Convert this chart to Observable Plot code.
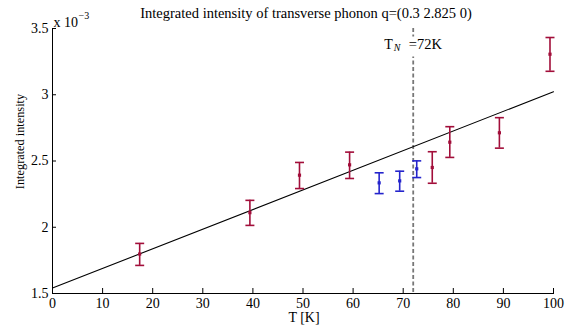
<!DOCTYPE html>
<html>
<head>
<meta charset="utf-8">
<script src="https://cdn.jsdelivr.net/npm/d3@7"></script>
<script src="https://cdn.jsdelivr.net/npm/@observablehq/plot@0.6"></script>
<style>
  html, body { margin: 0; padding: 0; background: #fff; }
</style>
</head>
<body>
<div id="chart"></div>
<script>
// Data (intensity in units of 1e-3)
const redT   = [17.4, 39.4, 49.3, 59.3, 75.8, 79.3, 89.2, 99.3];
const redV   = [1.798, 2.110, 2.393, 2.471, 2.451, 2.642, 2.713, 3.306];
const redLo  = [1.712, 2.014, 2.292, 2.368, 2.332, 2.527, 2.597, 3.177];
const redHi  = [1.878, 2.203, 2.489, 2.567, 2.570, 2.759, 2.827, 3.432];

const blueT  = [65.2, 69.3, 72.7];
const blueV  = [2.335, 2.350, 2.441];
const blueLo = [2.254, 2.272, 2.375];
const blueHi = [2.411, 2.423, 2.501];

const fitT = [0, 100];
const fitV = [1.541, 3.023];

const TN = 72;

const xTicks = [0, 10, 20, 30, 40, 50, 60, 70, 80, 90, 100];
const yTicks = [1.5, 2, 2.5, 3, 3.5];

const titleText = "Integrated intensity of transverse phonon q=(0.3 2.825 0)";
const xLabel = "T [K]";
const yLabel = "Integrated intensity";

const red = redT.map((t, i) => ({t, v: redV[i], lo: redLo[i], hi: redHi[i]}));
const blue = blueT.map((t, i) => ({t, v: blueV[i], lo: blueLo[i], hi: blueHi[i]}));
const fit = fitT.map((t, i) => ({t, v: fitV[i]}));

const RED = "#a20e3a";
const BLUE = "#2424cc";

const cap = {
  draw(ctx, size) {
    const r = 4.5;
    ctx.moveTo(-r, 0);
    ctx.lineTo(r, 0);
  }
};

const labelBox = {
  draw(ctx, size) {
    ctx.rect(-6, -10, 12, 20);
  }
};

function errMarks(data, color) {
  return [
    Plot.ruleX(data, {x: "t", y1: "lo", y2: "hi", stroke: color, strokeWidth: 1.6}),
    Plot.dot(data, {x: "t", y: "lo", symbol: cap, r: 4.5, stroke: color, strokeWidth: 1.6, fill: "none"}),
    Plot.dot(data, {x: "t", y: "hi", symbol: cap, r: 4.5, stroke: color, strokeWidth: 1.6, fill: "none"}),
    Plot.dot(data, {x: "t", y: "v", symbol: "square", r: 1.8, fill: color, stroke: "none"})
  ];
}

const chart = Plot.plot({
  width: 574,
  height: 325,
  marginLeft: 52,
  marginRight: 21,
  marginTop: 28,
  marginBottom: 32,
  style: {fontFamily: "'Liberation Serif', 'DejaVu Serif', serif", fontSize: "14px", color: "black", background: "white"},
  x: {domain: [0, 100]},
  y: {domain: [1.5, 3.5]},
  marks: [
    Plot.ruleX([TN], {x: d => d, stroke: "#777", strokeWidth: 1.8, strokeDasharray: "4,2.5"}),
    Plot.dot([TN], {x: d => d, frameAnchor: "top", dy: 18, symbol: labelBox, r: 5, fill: "white", stroke: "none"}),
    Plot.line(fit, {x: "t", y: "v", stroke: "black", strokeWidth: 1.1}),
    ...errMarks(red, RED),
    ...errMarks(blue, BLUE),
    Plot.frame({anchor: "left", stroke: "black", strokeWidth: 1}),
    Plot.frame({anchor: "bottom", stroke: "black", strokeWidth: 1}),
    Plot.axisX({ticks: xTicks, tickSize: -5, tickPadding: 10, label: null, tickFormat: d => String(d), fontSize: 14}),
    Plot.axisY({ticks: yTicks, tickSize: -4, tickPadding: 8, label: null, tickFormat: d => String(d), fontSize: 14}),
    Plot.text([titleText], {text: d => d, frameAnchor: "top", lineAnchor: "middle", dx: 3, dy: -15.5, fontSize: 14.5}),
    Plot.text([yLabel], {text: d => d, frameAnchor: "left", textAnchor: "middle", lineAnchor: "middle", rotate: -90, dx: -32, dy: -19.5, fontSize: 12.3}),
    Plot.text([xLabel], {text: d => d, frameAnchor: "bottom", textAnchor: "middle", lineAnchor: "middle", dx: 1, dy: 24.5, fontSize: 14}),
    Plot.text(["x 10"], {text: d => d, frameAnchor: "top-left", textAnchor: "start", lineAnchor: "middle", dx: 1, dy: -6, fontSize: 14}),
    Plot.text(["\u22123"], {text: d => d, frameAnchor: "top-left", textAnchor: "start", lineAnchor: "middle", dx: 26, dy: -13, fontSize: 10}),
    Plot.text([TN], {x: d => d, text: () => "T", frameAnchor: "top", textAnchor: "start", lineAnchor: "middle", dx: -29, dy: 16, fontSize: 14}),
    Plot.text([TN], {x: d => d, text: () => "N", frameAnchor: "top", textAnchor: "start", lineAnchor: "middle", dx: -19.5, dy: 19.5, fontSize: 10, fontStyle: "italic"}),
    Plot.text([TN], {x: d => d, text: () => "=72K", frameAnchor: "top", textAnchor: "start", lineAnchor: "middle", dx: -4.5, dy: 16, fontSize: 14.5})
  ]
});

document.getElementById("chart").appendChild(chart);
</script>
</body>
</html>
